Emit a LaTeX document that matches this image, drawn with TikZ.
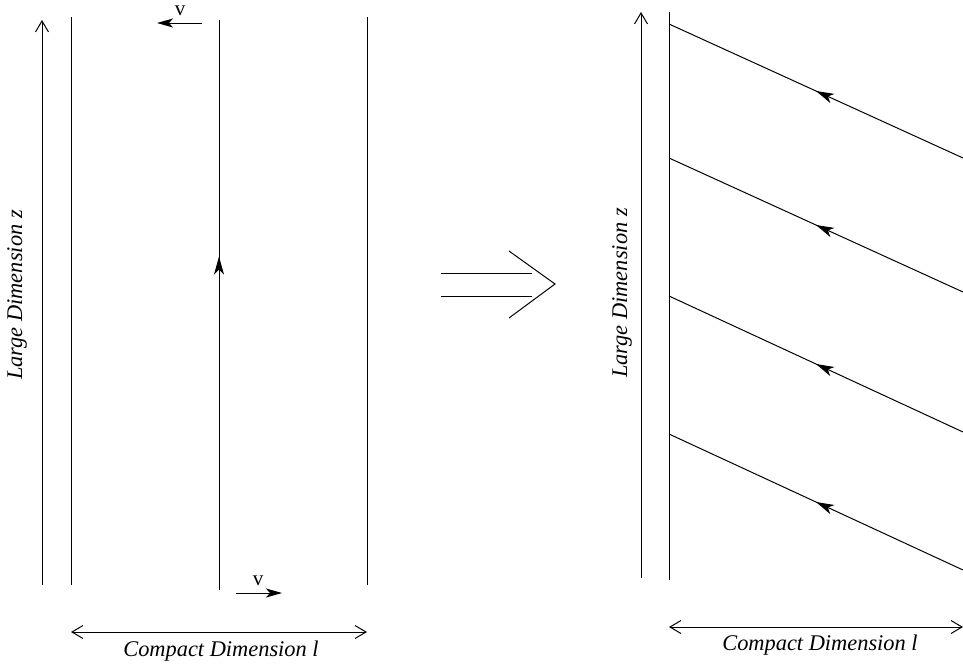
\documentclass[tikz,border=0pt]{standalone}
\usepackage{fontspec}
\setmainfont{Liberation Serif}
\usetikzlibrary{arrows.meta,decorations.markings}
\tikzset{
  ln/.style={line width=0.5pt},
  openarr/.style={ln,-{Straight Barb[length=5.5pt,width=6.5pt,line width=0.5pt]}},
  dblarr/.style={ln,{Straight Barb[length=5.5pt,width=6.5pt,line width=0.5pt]}-{Straight Barb[length=5.5pt,width=6.5pt,line width=0.5pt]}},
  varr/.style={ln,-{Stealth[length=8pt,width=4.5pt,inset=2pt]}},
  midarr/.style={ln,postaction={decorate},decoration={markings,mark=at position #1 with {\arrow{Stealth[length=9pt,width=5pt,inset=2.5pt]}}}},
  lbl/.style={font=\itshape\fontsize{11.2}{13}\selectfont,inner sep=0pt},
  vlbl/.style={font=\fontsize{10.5}{12}\selectfont,inner sep=0pt}
}
\begin{document}
\begin{tikzpicture}[x=0.5pt,y=-0.5pt]
\useasboundingbox (0,0) rectangle (963,665);
% left panel
\coordinate (LAb) at (42,585); \coordinate (LAt) at (42,20);
\draw[openarr] (LAb) -- (LAt);
\coordinate (L1b) at (71,585); \coordinate (L1t) at (71,17);
\draw[ln] (L1b) -- (L1t);
\coordinate (L2b) at (219,590); \coordinate (L2t) at (219,20);
\draw[midarr=0.585] (L2b) -- (L2t);
\coordinate (L3b) at (367,585); \coordinate (L3t) at (367,17);
\draw[ln] (L3b) -- (L3t);
\coordinate (V1s) at (202,23); \coordinate (V1e) at (157,23);
\draw[varr] (V1s) -- (V1e);
\node[vlbl] (v1) at (180,11) {v};
\coordinate (V2s) at (236,593); \coordinate (V2e) at (282,593);
\draw[varr] (V2s) -- (V2e);
\node[vlbl] (v2) at (258,581) {v};
\coordinate (CLa) at (71,632); \coordinate (CLb) at (367,632);
\draw[dblarr] (CLa) -- (CLb);
\node[lbl] (cl) at (221,651) {Compact Dimension l};
\node[lbl,rotate=90] (ll) at (17,295) {Large Dimension z};
% middle implication arrow
\coordinate (M1a) at (441,273); \coordinate (M1b) at (532,273);
\coordinate (M2a) at (441,296); \coordinate (M2b) at (532,296);
\draw[ln] (M1a) -- (M1b);
\draw[ln] (M2a) -- (M2b);
\coordinate (Ct) at (509,251); \coordinate (Cm) at (555,284); \coordinate (Cb) at (509,318);
\draw[ln] (Ct) -- (Cm) -- (Cb);
% right panel
\coordinate (RAb) at (641,578); \coordinate (RAt) at (641,12);
\draw[openarr] (RAb) -- (RAt);
\coordinate (R1b) at (669,580); \coordinate (R1t) at (669,12);
\draw[ln] (R1b) -- (R1t);
\coordinate (D1a) at (963,158); \coordinate (D1b) at (669,24);
\coordinate (D2a) at (963,292); \coordinate (D2b) at (669,158);
\coordinate (D3a) at (963,432); \coordinate (D3b) at (669,296);
\coordinate (D4a) at (963,570); \coordinate (D4b) at (669,434);
\draw[midarr=0.5] (D1a) -- (D1b);
\draw[midarr=0.5] (D2a) -- (D2b);
\draw[midarr=0.5] (D3a) -- (D3b);
\draw[midarr=0.5] (D4a) -- (D4b);
\coordinate (CRa) at (669,627); \coordinate (CRb) at (963,627);
\draw[dblarr] (CRa) -- (CRb);
\node[lbl] (cr) at (820,645) {Compact Dimension l};
\node[lbl,rotate=90] (lr) at (622,293) {Large Dimension z};
\end{tikzpicture}
\end{document}
